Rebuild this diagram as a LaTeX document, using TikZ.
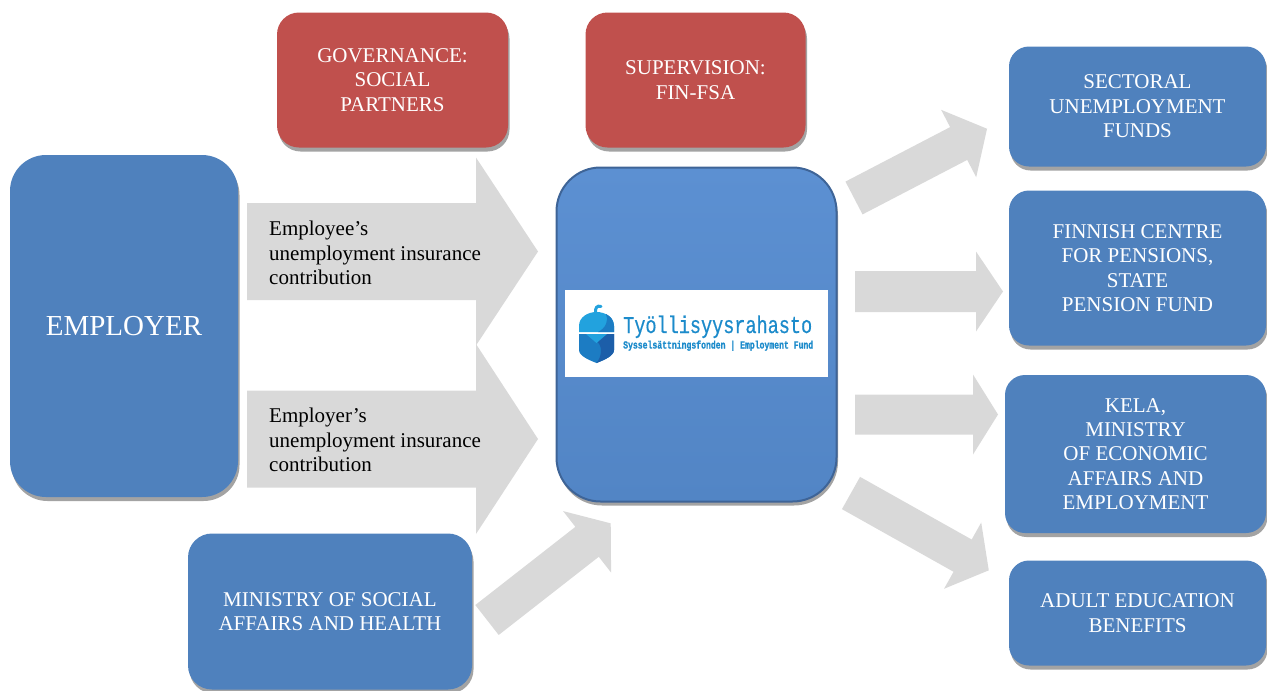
\documentclass[tikz,border=0pt]{standalone}
\usepackage{fontspec}
\setmainfont{Liberation Serif}
\setmonofont{Liberation Mono}
\newfontfamily\logotitlefont[FakeBold=0.6]{Liberation Mono}
\newfontfamily\logosubfont[FakeBold=1.2]{Liberation Mono Bold}
\usepackage{graphicx}
\usetikzlibrary{shadows}
\definecolor{boxblue}{HTML}{4F81BD}
\definecolor{boxred}{HTML}{C0504D}
\definecolor{arrowgray}{HTML}{D9D9D9}
\definecolor{fundtop}{HTML}{5C90D2}
\definecolor{fundbot}{HTML}{5285C5}
\definecolor{fundedge}{HTML}{3E6497}
\definecolor{logoblue}{HTML}{1C8BCB}
\definecolor{logolight}{HTML}{22A2DE}
\definecolor{logomid}{HTML}{1C7CC3}
\definecolor{logodark}{HTML}{1C5EA9}
\definecolor{shadowgray}{HTML}{A3A3A3}
% block arrow: start, angle, length, shaft half width, head half width, head length
\newcommand\blockarrow[6]{%
  \fill[arrowgray, shift={#1}, rotate=#2]
    (0,-#4) -- (#3-#6,-#4) -- (#3-#6,-#5) -- (#3,0) -- (#3-#6,#5) -- (#3-#6,#4) -- (0,#4) -- cycle;}
\tikzset{
  shadowed/.style={drop shadow={shadow xshift=1.5pt, shadow yshift=-4pt, fill=shadowgray, opacity=1}},
  bluebox/.style={shadowed, fill=boxblue, text=white, align=center, inner sep=0pt,
    rounded corners=20pt, font=\fontsize{21}{24.4}\selectfont},
  redbox/.style={bluebox, fill=boxred},
  flowtext/.style={anchor=west, align=left, inner sep=0pt, text=black,
    font=\fontsize{21}{24.4}\selectfont},
}
\begin{document}
\begin{tikzpicture}[x=1pt, y=-1pt]
\useasboundingbox (0,0) rectangle (1267,691);

% ---- grey block arrows ----
\blockarrow{(247,251.5)}{0}{291}{48.5}{94}{62}
\blockarrow{(247,439)}{0}{291}{48.5}{95}{62}
\blockarrow{(487,620)}{38}{157}{19}{39}{30}
\blockarrow{(854,198)}{27.5}{150}{18.5}{38}{32}
\blockarrow{(855,291.5)}{0}{148}{20.5}{40}{27}
\blockarrow{(855,414.5)}{0}{143}{20}{40}{25}
\blockarrow{(851,493)}{-29.3}{158}{18.5}{38}{30}

% ---- arrow texts ----
\node[flowtext] (employee) at (269,253) {Employee’s\\unemployment insurance\\contribution};
\node[flowtext] (employerc) at (269,440) {Employer’s\\unemployment insurance\\contribution};

% ---- boxes ----
\node[bluebox, minimum width=228pt, minimum height=342pt, rounded corners=36pt,
      font=\fontsize{29}{33}\selectfont] (employer) at (124,326) {EMPLOYER};
\node[redbox, minimum width=231pt, minimum height=135pt, rounded corners=22pt] (gov) at (392.5,80)
  {GOVERNANCE:\\SOCIAL\\PARTNERS};
\node[redbox, minimum width=220pt, minimum height=135pt, rounded corners=22pt] (sup) at (695.5,80)
  {SUPERVISION:\\FIN-FSA};
\node[bluebox, minimum width=284pt, minimum height=156pt, rounded corners=24pt] (msah) at (330,611.5)
  {MINISTRY OF SOCIAL\\AFFAIRS AND HEALTH};
\node[bluebox, minimum width=257pt, minimum height=120pt] (sect) at (1137.5,106.5)
  {SECTORAL\\UNEMPLOYMENT\\FUNDS};
\node[bluebox, minimum width=257pt, minimum height=155pt] (fcp) at (1137.5,268)
  {FINNISH CENTRE\\FOR PENSIONS,\\STATE\\PENSION FUND};
\node[bluebox, minimum width=261pt, minimum height=158pt] (kela) at (1135.5,454)
  {KELA,\\MINISTRY\\OF ECONOMIC\\AFFAIRS AND\\EMPLOYMENT};
\node[bluebox, minimum width=257pt, minimum height=105pt] (adult) at (1137.5,613)
  {ADULT EDUCATION\\BENEFITS};

% ---- central fund box ----
\node[shadowed, minimum width=280pt, minimum height=334pt, rounded corners=44pt,
      top color=fundtop, bottom color=fundbot, draw=fundedge, line width=2pt] (fund) at (696.5,334.5) {};
\node[fill=white, minimum width=263pt, minimum height=87pt, inner sep=0pt] (logo) at (696.5,333.5) {};

% acorn icon
\fill[logolight] (579,332) -- (579,326) .. controls (579,317) and (588,312) .. (596.5,312)
  .. controls (605,312) and (614,317) .. (614,326) -- (614,332) -- cycle;
\fill[logomid] (614,332) -- (614,326) .. controls (614,320) and (610,316) .. (606,314)
  .. controls (609,320) and (606,328) .. (598,332) -- cycle;
\draw[logolight, line width=3pt, line cap=round] (595.5,313) .. controls (595,308) and (597,305) .. (601,306.5);
\fill[logomid] (579,334) -- (614,334) -- (614,350) .. controls (614,356) and (604,360) .. (596.5,363)
  .. controls (589,360) and (579,356) .. (579,350) -- cycle;
\fill[logodark] (614,334) -- (614,350) .. controls (614,356) and (604,360) .. (596.5,363)
  .. controls (602,356) and (603,346) .. (596.5,341) -- (607,334) -- cycle;
\fill[logolight] (586,334) -- (607,334) -- (596.5,343) -- cycle;

% logo text
\node[anchor=base west, inner sep=0pt, text=logoblue] (logotitle) at (623,333)
  {\resizebox{189pt}{17.5pt}{\logotitlefont Työllisyysrahasto}};
\node[anchor=base west, inner sep=0pt, text=logoblue] (logosub) at (623,348.5)
  {\resizebox{190pt}{8pt}{\logosubfont Sysselsättningsfonden | Employment Fund}};
\end{tikzpicture}
\end{document}
